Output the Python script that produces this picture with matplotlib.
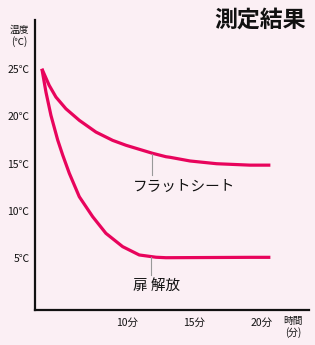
import matplotlib
matplotlib.use("Agg")
import matplotlib.pyplot as plt

plt.rcParams['font.family'] = ['Noto Sans CJK JP', 'DejaVu Sans']

# data (time in minutes, temperature in °C)
flat_t = [3.70, 4.24, 4.74, 5.48, 6.47, 7.70, 8.94, 9.93, 10.67, 11.90, 12.89, 13.19,
          14.67, 16.64, 19.11, 20.62]
flat_v = [25.04, 23.29, 22.05, 20.81, 19.59, 18.35, 17.47, 16.95, 16.63, 16.10, 15.74, 15.68,
          15.29, 15.00, 14.85, 14.85]
door_t = [3.70, 4.00, 4.37, 4.87, 5.24, 5.73, 6.47, 7.46, 8.44, 9.68, 10.91, 12.15, 12.89,
          19.11, 20.62]
door_v = [25.04, 22.58, 20.12, 17.51, 15.92, 13.99, 11.51, 9.40, 7.64, 6.23, 5.35, 5.11, 5.06,
          5.10, 5.10]
ytick_vals = [5, 10, 15, 20, 25]
ytick_labels = ['5℃', '10℃', '15℃', '20℃', '25℃']
xtick_vals = [10, 15, 20]
xtick_labels = ['10分', '15分', '20分']

bg = '#fbeff4'
line_c = '#e8045c'
W, H = 315, 345
fig = plt.figure(figsize=(W / 100, H / 100), dpi=100, facecolor=bg)
ax = fig.add_axes([35 / W, 1 - 310 / H, (309 - 35) / W, (310 - 20) / H], facecolor=bg)
ax.set_xlim(3.19, 23.48)
ax.set_ylim(-0.47, 30.2)

ax.plot(flat_t, flat_v, color=line_c, lw=2.3, solid_capstyle='butt', solid_joinstyle='round')
ax.plot(door_t, door_v, color=line_c, lw=2.3, solid_capstyle='butt', solid_joinstyle='round')

for s in ['top', 'right']:
    ax.spines[s].set_visible(False)
for s in ['left', 'bottom']:
    ax.spines[s].set_linewidth(1.6)
    ax.spines[s].set_color('#111111')

ax.set_yticks(ytick_vals, ytick_labels)
ax.set_xticks(xtick_vals, xtick_labels)
ax.tick_params(axis='both', length=0, labelsize=7.5, colors='#111111')
ax.tick_params(axis='y', pad=4)
ax.tick_params(axis='x', pad=6)

# leader lines and labels
ax.plot([11.85, 11.85], [16.0, 13.8], color='#999999', lw=0.8)
ax.text(10.44, 12.6, 'フラットシート', fontsize=10.5, va='center', ha='left', color='#111111')
ax.plot([11.8, 11.8], [5.1, 3.2], color='#999999', lw=0.8)
ax.text(10.44, 2.1, '扉 解放', fontsize=10.5, va='center', ha='left', color='#111111')

fig.text(19 / W, 1 - 36 / H, '温度\n(℃)', fontsize=7, ha='center', va='center',
         linespacing=1.1, color='#111111')
fig.text(293 / W, 1 - 327 / H, '時間\n(分)', fontsize=7, ha='center', va='center',
         linespacing=1.1, color='#111111')
fig.text(306 / W, 1 - 20 / H, '測定結果', fontsize=16.5, fontweight='bold', ha='right',
         va='center', color='#111111')

fig.savefig('out.png', dpi=100, facecolor=bg)
